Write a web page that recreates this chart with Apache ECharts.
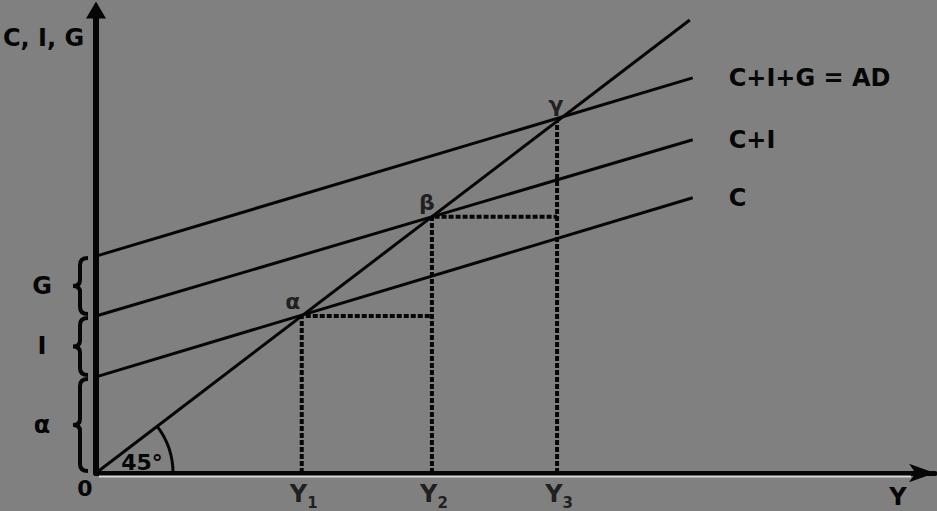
<!DOCTYPE html>
<html><head><meta charset="utf-8">
<script src="https://cdn.jsdelivr.net/npm/echarts@6/dist/echarts.min.js"></script>
<style>html,body{margin:0;padding:0;background:#808080}#c{width:937px;height:511px}</style>
</head><body><div id="c"></div>
<script>
// ---- data ----
const lineNames = ['C+I+G = AD', 'C+I', 'C'];
const lineStart = [67.7, 49.0, 30.0];     // value at Y = 0
const lineEnd = [123.3, 104.0, 85.9];     // value at Y = lineEndX
const lineEndX = 142.1;
const diagEnd = 141.4;                    // 45° line end (Y = C+I+G)
const eqY = [49.0, 80.0, 109.8];          // Y1, Y2, Y3
const eqLabels = ['α', 'β', 'γ'];
const tickSubs = ['1', '2', '3'];
const braceRanges = [[0, 30.0], [30.0, 49.0], [49.0, 67.7]];
const braceLabels = ['α', 'I', 'G'];
const xMax = 199.8, yMax = 144.5;

const FONT = '"DejaVu Sans", Arial, sans-serif';
const INK = '#060606';
const chart = echarts.init(document.getElementById('c'), null, {renderer: 'svg'});

const series = [];
series.push({
  type: 'line', data: [[0, 0], [diagEnd, diagEnd]], symbol: 'none', silent: true,
  lineStyle: {color: INK, width: 3}, z: 5
});
lineNames.forEach((n, i) => {
  series.push({
    type: 'line', name: n, data: [[0, lineStart[i]], [lineEndX, lineEnd[i]]], symbol: 'none',
    lineStyle: {color: INK, width: 3}, z: 5,
    endLabel: {show: true, formatter: n, distance: 36, color: INK, fontFamily: FONT,
      fontWeight: 'bold', fontSize: 24}
  });
});
// dotted guide lines
const guides = [
  [[eqY[0], 0], [eqY[0], eqY[0]], [eqY[1], eqY[0]]],
  [[eqY[1], 0], [eqY[1], eqY[1]], [eqY[2], eqY[1]]],
  [[eqY[2], 0], [eqY[2], eqY[2]]]
];
guides.forEach(g => series.push({
  type: 'line', data: g, symbol: 'none', z: 3,
  lineStyle: {color: INK, width: 4, type: [5, 2]}
}));
// equilibrium point labels
const eqOffsets = [[-9, -14], [-5, -14], [-1, -17]];
series.push({
  type: 'scatter', symbolSize: 0, z: 6,
  data: eqY.map((v, i) => ({
    value: [v, v],
    label: {show: true, formatter: eqLabels[i], position: eqOffsets[i], align: 'center',
      verticalAlign: 'middle', color: INK, fontFamily: FONT, fontWeight: 'bold', fontSize: 22}
  }))
});
// Y1, Y2, Y3 tick labels
series.push({
  type: 'scatter', symbolSize: 0, z: 6,
  data: eqY.map((v, i) => ({
    value: [v, 0],
    label: {show: true, formatter: '{y|Y}{s|' + tickSubs[i] + '}', position: [2, 23],
      align: 'center', verticalAlign: 'middle',
      rich: {
        y: {fontFamily: FONT, fontWeight: 'bold', fontSize: 24, color: INK, padding: [0, 0, 5, 0], verticalAlign: 'bottom'},
        s: {fontFamily: FONT, fontWeight: 'bold', fontSize: 15, color: INK, verticalAlign: 'bottom'}
      }}
  }))
});
// braces with labels
series.push({
  type: 'custom', clip: false, z: 4,
  data: braceRanges.map((r, i) => [r[0], r[1], i]),
  renderItem: (params, api) => {
    const lo = api.coord([0, api.value(0)]);
    const hi = api.coord([0, api.value(1)]);
    const x = lo[0] - 16;
    const y0 = hi[1] + 2, y1 = lo[1] - 2, ym = (y0 + y1) / 2;
    const d = `M${x + 8} ${y0} Q${x} ${y0} ${x} ${y0 + 7} L${x} ${ym - 6} Q${x} ${ym} ${x - 7} ${ym} ` +
      `Q${x} ${ym} ${x} ${ym + 6} L${x} ${y1 - 7} Q${x} ${y1} ${x + 8} ${y1}`;
    const idx = api.value(2);
    return {type: 'group', children: [
      {type: 'path', shape: {pathData: d}, style: {fill: 'none', stroke: INK, lineWidth: 4}},
      {type: 'text', x: 42, y: ym, style: {text: braceLabels[idx], font: 'bold 24px ' + FONT,
        fill: INK, align: 'center', verticalAlign: 'middle'}}
    ]};
  }
});
// 45 degree arc + light edge under the horizontal axis
series.push({
  type: 'custom', clip: false, z: 4, data: [[0, 0]],
  renderItem: (params, api) => {
    const p0 = api.coord([0, 0]);
    const p1 = api.coord([diagEnd, diagEnd]);
    const pe = api.coord([xMax, 0]);
    const ang = Math.atan2(p1[1] - p0[1], p1[0] - p0[0]);
    return {type: 'group', children: [
      {type: 'arc', shape: {cx: p0[0], cy: p0[1], r: 77, startAngle: ang, endAngle: 0, clockwise: true},
        style: {fill: 'none', stroke: INK, lineWidth: 3}},
      {type: 'line', shape: {x1: p0[0] + 3, y1: p0[1] + 3.5, x2: pe[0] - 24, y2: pe[1] + 3.5},
        style: {stroke: '#d8d8d8', lineWidth: 2}}
    ]};
  }
});

chart.setOption({
  backgroundColor: '#808080',
  animation: false,
  grid: {left: 96, right: 937 - 96 - 839, top: 10, bottom: 38},
  xAxis: {type: 'value', min: 0, max: xMax,
    axisLine: {show: true, symbol: ['none', 'arrow'], symbolSize: [14, 26],
      lineStyle: {color: INK, width: 5}},
    axisTick: {show: false}, axisLabel: {show: false}, splitLine: {show: false}},
  yAxis: {type: 'value', min: 0, max: yMax,
    axisLine: {show: true, symbol: ['none', 'triangle'], symbolSize: [20, 17],
      lineStyle: {color: INK, width: 6}},
    axisTick: {show: false}, axisLabel: {show: false}, splitLine: {show: false}},
  graphic: [
    {type: 'text', x: 3, y: 38, style: {text: 'C, I, G', font: 'bold 24px ' + FONT, fill: INK, align: 'left', verticalAlign: 'middle'}},
    {type: 'text', x: 85, y: 488, style: {text: '0', font: 'bold 22px ' + FONT, fill: INK, align: 'center', verticalAlign: 'middle'}},
    {type: 'text', x: 898, y: 497, style: {text: 'Y', font: 'bold 24px ' + FONT, fill: INK, align: 'center', verticalAlign: 'middle'}},
    {type: 'text', x: 142, y: 462, style: {text: '45°', font: 'bold 22px ' + FONT, fill: INK, align: 'center', verticalAlign: 'middle'}}
  ],
  series: series
});
</script></body></html>
